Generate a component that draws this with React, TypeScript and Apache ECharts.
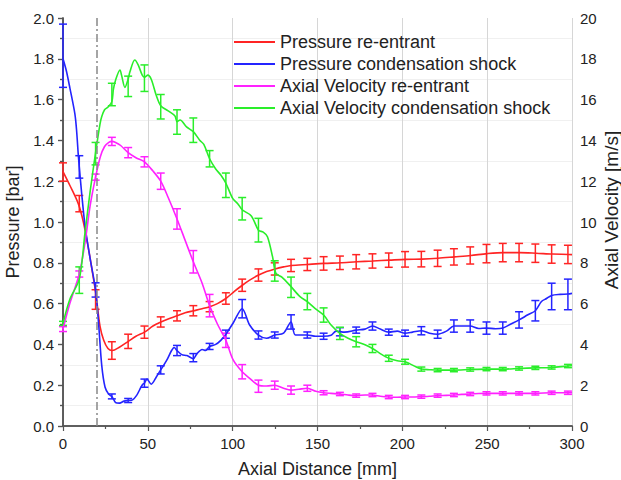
import React, { useEffect, useRef } from "react";
import * as echarts from "echarts";

// ---------- data ----------
const redX = [0,4,9,12,15,18,19.5,21.8,24,26.5,29,33,38.5,43,48,53,57.7,62,67.3,72,77,82,86.5,91,96,101,105.7,110,115.3,120,125,130,134.5,144,153.8,163.5,173,182.7,192.3,202,211.5,221,230.8,240.4,250,259.6,269.2,278.8,288.5,298,300];
const redY = [1.247,1.18,1.09,1.0,0.87,0.72,0.64,0.49,0.42,0.38,0.37,0.385,0.415,0.44,0.46,0.49,0.51,0.525,0.54,0.555,0.565,0.575,0.585,0.6,0.625,0.66,0.69,0.715,0.74,0.757,0.77,0.78,0.787,0.792,0.797,0.8,0.805,0.809,0.813,0.817,0.818,0.822,0.829,0.836,0.845,0.85,0.85,0.847,0.843,0.841,0.84];

const blueX = [0,2,4.1,7,8,9,9.6,11,13,16,19.2,21,22.8,24.8,27,28.8,31,33.3,36,38.4,41,43.4,45.3,47,48,49.5,52,55,57.6,61,64,65.5,67.2,70,73,76.8,79,82,84,86.4,90,93,96,100.3,105.6,110,115.2,120,124.8,130,134.4,137,144,149,153.6,158,161,166,172.8,178,182.4,187,192,197,201.6,206,211.2,216,220.8,226,230.4,235,240,245,249.6,255,259.2,264,268.8,274,278.4,282,285,288,293,297.6,300];
const blueY = [1.8,1.74,1.655,1.53,1.45,1.33,1.27,1.14,0.98,0.82,0.667,0.5,0.3,0.19,0.155,0.145,0.115,0.112,0.122,0.125,0.128,0.15,0.18,0.205,0.21,0.23,0.205,0.24,0.275,0.32,0.37,0.385,0.37,0.35,0.345,0.33,0.355,0.375,0.37,0.39,0.4,0.42,0.45,0.505,0.575,0.495,0.446,0.43,0.446,0.455,0.51,0.446,0.446,0.44,0.44,0.445,0.465,0.46,0.47,0.475,0.49,0.475,0.46,0.465,0.455,0.46,0.467,0.455,0.45,0.465,0.49,0.49,0.49,0.478,0.48,0.477,0.48,0.5,0.52,0.545,0.565,0.61,0.625,0.64,0.645,0.647,0.65];

const magX = [0,4,9.6,13,16,19.2,22,24.5,27,28.8,31,34,38.4,43,48,53,57.6,62,67.2,72,76.8,82,86.4,91,96,100.3,105.6,110,115.2,120,124.8,130,134.4,139,144,149,153.6,158,163.2,168,172.8,178,182.4,187,192,197,201.6,206,211.2,216,220.8,226,230.4,235,240,245,249.6,259.2,268.8,278.4,288,297.6,300];
const magY = [4.75,6.0,7.45,9.0,10.8,12.2,13.2,13.7,13.9,13.95,13.9,13.75,13.4,13.15,12.95,12.5,12.0,11.2,10.15,9.1,8.05,7.0,5.9,5.0,4.2,3.24,2.66,2.34,2.0,1.96,2.0,1.85,1.76,1.8,1.85,1.7,1.63,1.6,1.57,1.52,1.49,1.52,1.52,1.46,1.42,1.41,1.42,1.42,1.44,1.46,1.49,1.5,1.52,1.55,1.57,1.59,1.6,1.6,1.6,1.6,1.63,1.63,1.63];

const greenX = [0,4,9.6,13,16,19.2,21.8,22.8,24.5,26.7,28.8,29.7,31,33.6,34.5,36.5,38.4,39.4,42.3,44.3,46.7,48,50,52,55,57.6,62,66,67.2,69,72.8,76.8,80.7,83,86.4,90,93,96,100,103,105.6,111,115.2,118,120.5,123.5,125.5,129,134.4,139.7,144,148.5,153.6,158,163.2,168,172.8,178,182.4,187,192,197,201.6,204,208,211.2,216,220.8,230.4,240,249.6,259.2,268.8,278.4,288,297.6,300];
const greenY = [5.03,6.2,7.2,9.5,11.5,13.4,14.8,15.16,15.5,15.65,15.9,16.5,16.96,17.45,17.2,16.6,17.0,17.35,17.94,17.7,17.2,17.1,17.2,17.0,16.2,15.7,15.45,15.2,14.92,15.0,14.66,14.43,14.0,13.8,13.1,12.6,12.3,11.9,11.16,10.9,10.6,10.3,9.6,9.5,9.28,8.3,7.48,7.3,6.83,6.34,6.1,5.77,5.44,4.95,4.54,4.3,4.13,3.98,3.8,3.55,3.32,3.2,3.15,3.07,2.9,2.79,2.76,2.74,2.74,2.77,2.79,2.79,2.82,2.85,2.87,2.94,2.95];

// error bar positions (mm) and values
const errX = [0,9.6,19.2,28.8,38.4,48,57.6,67.2,76.8,86.4,96,105.6,115.2,124.8,134.4,144,153.6,163.2,172.8,182.4,192,201.6,211.2,220.8,230.4,240,249.6,259.2,268.8,278.4,288,297.6];
const redErrY = [1.245,1.09,0.62,0.37,0.415,0.46,0.51,0.54,0.565,0.585,0.625,0.69,0.74,0.77,0.787,0.792,0.797,0.8,0.805,0.809,0.813,0.817,0.818,0.822,0.829,0.836,0.845,0.85,0.85,0.847,0.843,0.841];
const redErrD = [0.045,0.04,0.048,0.043,0.035,0.03,0.025,0.025,0.025,0.025,0.028,0.03,0.03,0.03,0.03,0.03,0.033,0.033,0.035,0.035,0.035,0.038,0.038,0.04,0.04,0.042,0.045,0.045,0.045,0.045,0.045,0.045];
const blueErrY = [1.815,1.27,0.667,0.145,0.125,0.21,0.275,0.37,0.335,0.39,0.45,0.575,0.446,0.446,0.51,0.446,0.44,0.462,0.47,0.49,0.46,0.455,0.467,0.45,0.49,0.49,0.48,0.48,0.52,0.565,0.635,0.645];
const blueErrD = [0.155,0.055,0.035,0.012,0.01,0.02,0.02,0.025,0.02,0.015,0.02,0.045,0.02,0.015,0.035,0.015,0.015,0.02,0.015,0.02,0.015,0.015,0.02,0.02,0.03,0.03,0.03,0.03,0.04,0.05,0.065,0.075];
const magErrY = [4.75,7.45,12.2,13.95,13.4,12.95,12.0,10.15,8.05,5.9,4.2,2.66,1.95,2.0,1.76,1.85,1.63,1.57,1.49,1.52,1.42,1.42,1.44,1.49,1.52,1.57,1.6,1.6,1.6,1.6,1.63,1.63];
const magErrD = [0.12,0.15,0.15,0.2,0.25,0.25,0.4,0.5,0.55,0.55,0.35,0.35,0.3,0.2,0.2,0.15,0.1,0.08,0.08,0.08,0.08,0.08,0.08,0.08,0.08,0.08,0.08,0.08,0.08,0.08,0.08,0.08];
const greenErrY = [5.03,7.15,13.35,16.25,16.65,17.05,15.65,14.9,14.5,13.1,11.8,10.65,9.6,7.6,6.8,6.1,5.44,4.54,4.13,3.8,3.32,3.15,2.79,2.74,2.74,2.77,2.79,2.79,2.82,2.85,2.87,2.94];
const greenErrD = [0.1,0.65,0.55,0.55,0.5,0.65,0.6,0.6,0.6,0.4,0.6,0.55,0.58,0.5,0.5,0.4,0.35,0.3,0.25,0.2,0.15,0.12,0.1,0.08,0.08,0.08,0.08,0.08,0.08,0.08,0.08,0.08];

const names = [
  "Pressure re-entrant",
  "Pressure condensation shock",
  "Axial Velocity re-entrant",
  "Axial Velocity condensation shock",
];
const colors = ["#ff2424", "#2424ff", "#ff22ff", "#2aee2a"];
const guideX = 20;
const rightAxisName = "Axial Velocity [m/s]";

// ---------- helpers ----------
const zip = (xs: number[], ys: number[]) => xs.map((x, i) => [x, ys[i]]);
const errData = (ys: number[], ds: number[]) => errX.map((x, i) => [x, ys[i], ds[i]]);

const errRender = (color: string) => (params: any, api: any) => {
  const x = api.value(0);
  const y = api.value(1);
  const d = api.value(2);
  const top = api.coord([x, y + d]);
  const bot = api.coord([x, y - d]);
  const w = 4;
  const style = { stroke: color, lineWidth: 1.5, fill: "none" };
  return {
    type: "group",
    children: [
      { type: "line", shape: { x1: top[0], y1: top[1], x2: bot[0], y2: bot[1] }, style },
      { type: "line", shape: { x1: top[0] - w, y1: top[1], x2: top[0] + w, y2: top[1] }, style },
      { type: "line", shape: { x1: bot[0] - w, y1: bot[1], x2: bot[0] + w, y2: bot[1] }, style },
    ],
  };
};

const FONT = "Liberation Sans, Arial, sans-serif";
const axisCol = "#555555";
const textCol = "#222222";

export default function App() {
  const ref = useRef<HTMLDivElement>(null);
  useEffect(() => {
    if (!ref.current) return;
    const chart = echarts.init(ref.current, undefined, { renderer: "svg" });
    const lineSeries = (i: number, xs: number[], ys: number[], yIdx: number, extra: any = {}) => ({
      name: names[i],
      type: "line",
      xAxisIndex: 0,
      yAxisIndex: yIdx,
      data: zip(xs, ys),
      showSymbol: false,
      symbol: "none",
      smooth: 0.3,
      lineStyle: { color: colors[i], width: 1.6 },
      itemStyle: { color: colors[i] },
      ...extra,
    });
    const errSeries = (i: number, ys: number[], ds: number[], yIdx: number) => ({
      name: names[i] + " err",
      type: "custom",
      xAxisIndex: 0,
      yAxisIndex: yIdx,
      data: errData(ys, ds),
      encode: { x: 0, y: 1 },
      renderItem: errRender(colors[i]),
      silent: true,
    });
    chart.setOption({
      animation: false,
      backgroundColor: "#ffffff",
      textStyle: { fontFamily: FONT },
      grid: { left: 63, right: 49, top: 18, bottom: 54, containLabel: false, outerBoundsMode: "none" },
      legend: {
        data: names,
        orient: "vertical",
        left: 234,
        top: 33,
        padding: 0,
        itemWidth: 41,
        itemHeight: 2,
        itemGap: 4,
        icon: "rect",
        textStyle: { fontSize: 18, color: textCol, fontFamily: FONT, lineHeight: 18 },
      },
      graphic: [
        {
          type: "text",
          x: 611,
          y: 210,
          rotation: Math.PI / 2,
          silent: true,
          style: {
            text: rightAxisName,
            fontSize: 19,
            fontFamily: FONT,
            fill: textCol,
            align: "center",
            verticalAlign: "middle",
          },
        },
      ],
      xAxis: [
        {
          type: "value",
          min: 0,
          max: 300,
          interval: 50,
          name: "Axial Distance [mm]",
          nameLocation: "middle",
          nameGap: 34,
          nameTextStyle: { fontSize: 18, color: textCol, fontFamily: FONT },
          axisLine: { show: true, lineStyle: { color: axisCol, width: 1.5 } },
          axisTick: { show: true, inside: false, length: 5, lineStyle: { color: axisCol, width: 1.2 } },
          minorTick: { show: true, splitNumber: 2, length: 3, lineStyle: { color: axisCol, width: 1.2 } },
          axisLabel: { fontSize: 15, color: textCol, margin: 10, fontFamily: FONT },
          splitLine: { show: true, lineStyle: { color: "#d6d6d6", width: 1 } },
        },
        {
          type: "value",
          position: "top",
          min: 0,
          max: 300,
          axisLine: { show: true, lineStyle: { color: axisCol, width: 1.5 } },
          axisTick: { show: false },
          axisLabel: { show: false },
          splitLine: { show: false },
        },
      ],
      yAxis: [
        {
          type: "value",
          min: 0,
          max: 2,
          interval: 0.2,
          name: "Pressure [bar]",
          nameLocation: "middle",
          nameGap: 36,
          nameTextStyle: { fontSize: 18, color: textCol, fontFamily: FONT },
          axisLine: { show: true, lineStyle: { color: axisCol, width: 1.5 } },
          axisTick: { show: true, inside: false, length: 5, lineStyle: { color: axisCol, width: 1.2 } },
          minorTick: { show: true, splitNumber: 2, length: 3, lineStyle: { color: axisCol, width: 1.2 } },
          axisLabel: { fontSize: 15, color: textCol, margin: 9, fontFamily: FONT, formatter: (v: number) => v.toFixed(1) },
          splitLine: { show: false },
          minorSplitLine: { show: true, lineStyle: { color: "#f0f0f0", width: 1 } },
        },
        {
          type: "value",
          min: 0,
          max: 20,
          interval: 2,
          position: "right",
          axisLine: { show: true, lineStyle: { color: axisCol, width: 1.5 } },
          axisTick: { show: true, inside: true, length: 5, lineStyle: { color: axisCol, width: 1.2 } },
          minorTick: { show: true, splitNumber: 2, length: 3, lineStyle: { color: axisCol, width: 1.2 } },
          axisLabel: { fontSize: 15, color: textCol, margin: 8, fontFamily: FONT },
          splitLine: { show: false },
        },
      ],
      series: [
        lineSeries(0, redX, redY, 0, {
          markLine: {
            silent: true,
            symbol: ["none", "none"],
            label: { show: false },
            lineStyle: { color: "#888888", width: 1.5, type: [8, 3, 2, 3] },
            data: [{ xAxis: guideX }],
          },
        }),
        lineSeries(1, blueX, blueY, 0),
        lineSeries(2, magX, magY, 1),
        lineSeries(3, greenX, greenY, 1),
        errSeries(0, redErrY, redErrD, 0),
        errSeries(1, blueErrY, blueErrD, 0),
        errSeries(2, magErrY, magErrD, 1),
        errSeries(3, greenErrY, greenErrD, 1),
      ],
    });
    return () => chart.dispose();
  }, []);
  return (
    <div
      ref={ref}
      style={{ position: "absolute", left: 0, top: 0, width: 621, height: 480, background: "#fff" }}
    />
  );
}
